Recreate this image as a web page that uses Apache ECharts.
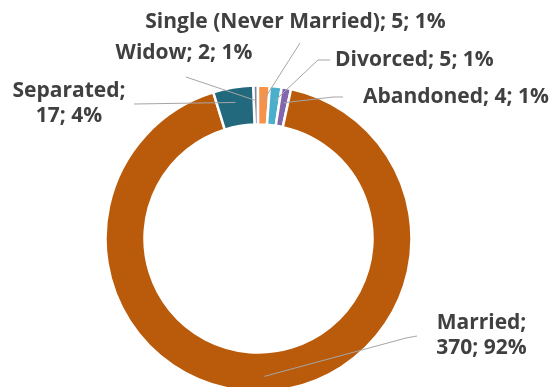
<!DOCTYPE html>
<html>
<head>
<meta charset="utf-8">
<script src="https://cdn.jsdelivr.net/npm/echarts@6/dist/echarts.min.js"></script>
<style>
  html, body { margin: 0; padding: 0; background: #ffffff; }
  #chart { width: 556px; height: 387px; }
</style>
</head>
<body>
<div id="chart"></div>
<script>
// Marital status of respondents
const categories = ['Widow', 'Single (Never Married)', 'Divorced', 'Abandoned', 'Married', 'Separated'];
const counts = [2, 5, 5, 4, 370, 17];
const shares = [1, 1, 1, 1, 92, 4];          // percent shown in each label
const sliceColors = ['#7D86A8', '#F5934A', '#4BAFCB', '#8466AE', '#BA5B0B', '#22697D'];
const twoLineLabels = ['Married', 'Separated'];

// Ring geometry
const CX = 258.5, CY = 238.5, R_IN = 114, R_OUT = 153, START = 92;
const ANCHOR_R = 138;

// Label placement: text anchor, plus where its leader line leaves the text
const labelPlace = {
  'Widow':                  { x: 184,   y: 53,  align: 'center', from: [[186, 77]] },
  'Single (Never Married)': { x: 295.5, y: 22,  align: 'center', from: [[300, 43]] },
  'Divorced':               { x: 335,   y: 60,  align: 'left',   from: [[330, 60], [318, 60]] },
  'Abandoned':              { x: 363,   y: 97,  align: 'left',   from: [[343, 97], [333, 97]] },
  'Married':                { x: 481.5, y: 336, align: 'center', from: [[417, 336], [406, 338]] },
  'Separated':              { x: 69,    y: 104, align: 'center', from: [[134, 104]] }
};

const seriesData = categories.map((name, i) => ({
  name: name,
  value: counts[i],
  itemStyle: { color: sliceColors[i] }
}));

function labelText(i) {
  const name = categories[i];
  const sep = twoLineLabels.indexOf(name) >= 0 ? ';\n' : '; ';
  return name + sep + counts[i] + '; ' + shares[i] + '%';
}

// Leader lines: from the label to the middle of its slice
const total = counts.reduce((a, b) => a + b, 0);
const leaderLines = [];
let acc = 0;
counts.forEach((v, i) => {
  const mid = (90 - START) + (acc + v / 2) / total * 360;   // degrees clockwise from 12 o'clock
  acc += v;
  const rad = mid * Math.PI / 180;
  const anchor = [CX + ANCHOR_R * Math.sin(rad), CY - ANCHOR_R * Math.cos(rad)];
  const pts = labelPlace[categories[i]].from.concat([anchor]);
  leaderLines.push({
    type: 'polyline',
    silent: true,
    z: 100,
    shape: { points: pts },
    style: { stroke: '#A6A6A6', lineWidth: 1, fill: null }
  });
});

const chart = echarts.init(document.getElementById('chart'), null, { renderer: 'canvas' });
chart.setOption({
  animation: false,
  backgroundColor: '#ffffff',
  graphic: { elements: leaderLines },
  series: [{
    type: 'pie',
    center: [CX, CY],
    radius: [R_IN, R_OUT],
    startAngle: START,
    clockwise: true,
    avoidLabelOverlap: false,
    itemStyle: { borderColor: '#ffffff', borderWidth: 2.5 },
    label: {
      show: true,
      position: 'outside',
      formatter: p => labelText(p.dataIndex),
      fontFamily: 'Open Sans',
      fontWeight: 'bold',
      fontSize: 21,
      lineHeight: 25,
      color: '#404040'
    },
    labelLine: { show: false },
    labelLayout: params => {
      const p = labelPlace[categories[params.dataIndex]];
      return { x: p.x, y: p.y, align: p.align, verticalAlign: 'middle' };
    },
    emphasis: { disabled: true },
    data: seriesData
  }]
});
</script>
</body>
</html>
